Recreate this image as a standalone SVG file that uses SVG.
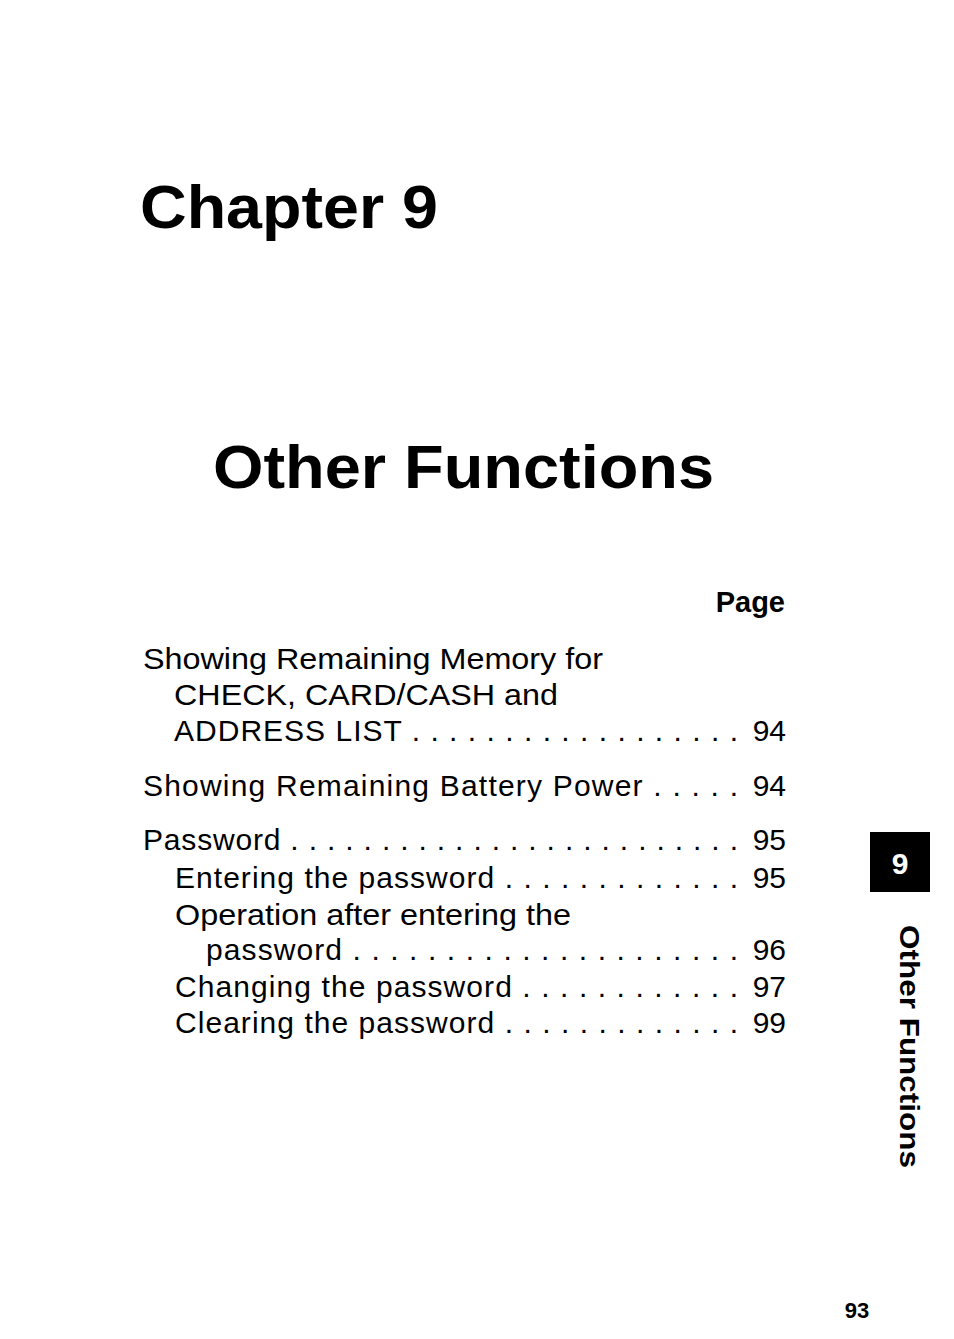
<svg xmlns="http://www.w3.org/2000/svg" width="954" height="1339" viewBox="0 0 954 1339">
<style>
.h{font-family:"Liberation Sans",Arial,sans-serif;font-weight:bold;fill:#000}
.t{font-family:"Liberation Sans",Arial,sans-serif;font-size:30px;fill:#000}
.r{text-anchor:end}
</style>
<rect width="954" height="1339" fill="#fff"/>
<text class="h" x="140" y="228" font-size="62" textLength="298" lengthAdjust="spacingAndGlyphs">Chapter 9</text>
<text class="h" x="213" y="488" font-size="62" textLength="501" lengthAdjust="spacingAndGlyphs">Other Functions</text>
<text class="h" x="785" y="612" font-size="29" text-anchor="end">Page</text>
<g class="t">
<text x="143" y="669" textLength="460" lengthAdjust="spacingAndGlyphs">Showing Remaining Memory for</text>
<text x="174" y="705" textLength="384" lengthAdjust="spacingAndGlyphs">CHECK, CARD/CASH and</text>
<text x="174" y="741" textLength="564" lengthAdjust="spacing">ADDRESS LIST . . . . . . . . . . . . . . . . . .</text>
<text x="786" y="741" class="r">94</text>
<text x="143" y="796" textLength="595" lengthAdjust="spacing">Showing Remaining Battery Power . . . . .</text>
<text x="786" y="796" class="r">94</text>
<text x="143" y="850" textLength="595" lengthAdjust="spacing">Password . . . . . . . . . . . . . . . . . . . . . . . . .</text>
<text x="786" y="850" class="r">95</text>
<text x="175" y="888" textLength="563" lengthAdjust="spacing">Entering the password . . . . . . . . . . . . .</text>
<text x="786" y="888" class="r">95</text>
<text x="175" y="925" textLength="396" lengthAdjust="spacingAndGlyphs">Operation after entering the</text>
<text x="206" y="960" textLength="532" lengthAdjust="spacing">password  . . . . . . . . . . . . . . . . . . . . .</text>
<text x="786" y="960" class="r">96</text>
<text x="175" y="997" textLength="563" lengthAdjust="spacing">Changing the password . . . . . . . . . . . .</text>
<text x="786" y="997" class="r">97</text>
<text x="175" y="1033" textLength="563" lengthAdjust="spacing">Clearing the password . . . . . . . . . . . . .</text>
<text x="786" y="1033" class="r">99</text>
</g>
<rect x="870" y="832" width="60" height="60" fill="#000"/>
<text class="h" x="900" y="874" font-size="30" text-anchor="middle" style="fill:#fff">9</text>
<text class="h" font-size="28" transform="translate(900,925) rotate(90)" textLength="243" lengthAdjust="spacingAndGlyphs">Other Functions</text>
<text class="h" x="857" y="1318" font-size="22" text-anchor="middle">93</text>
</svg>
